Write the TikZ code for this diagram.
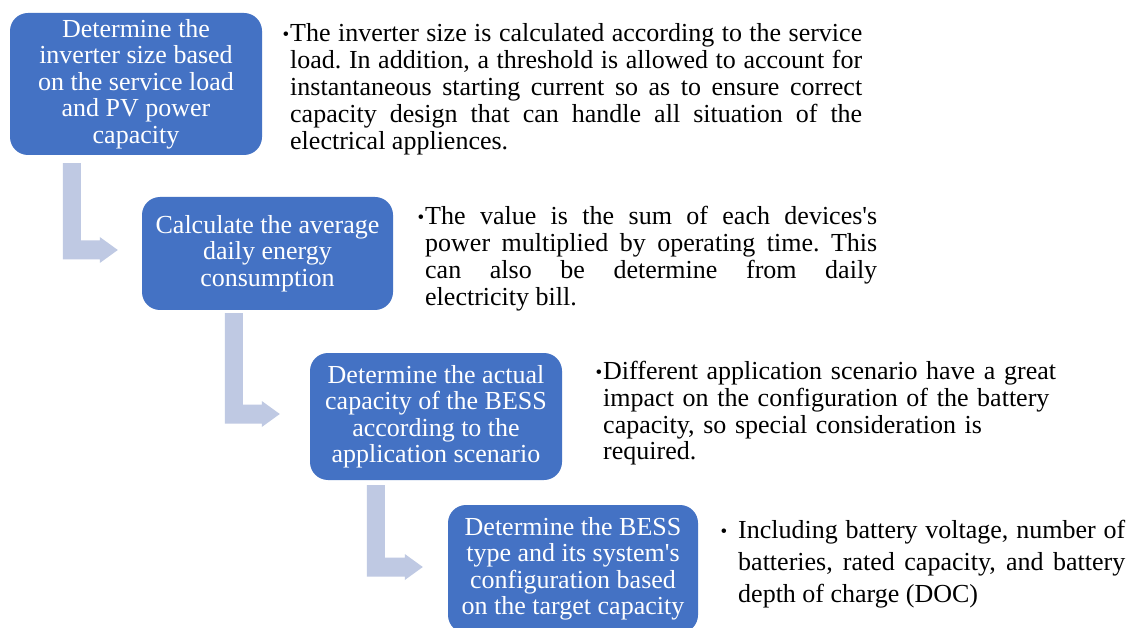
\documentclass[tikz,border=0pt]{standalone}
\usepackage{fontspec}
\setmainfont{Liberation Serif}[Ligatures=TeXOff]
\usetikzlibrary{calc}
\definecolor{boxblue}{HTML}{4472C4}
\definecolor{arrowblue}{HTML}{BFC9E3}
\tikzset{
  stepbox/.style={rounded corners=18pt, fill=boxblue, text=white, align=center,
    inner sep=1pt, font=\fontsize{26}{26.5}\selectfont},
  desc/.style={anchor=base west, inner sep=0pt, text=black,
    font=\fontsize{26}{27}\selectfont\frenchspacing},
  bentfill/.style={fill=arrowblue}
}
\newcommand\mybullet[1]{\llap{\raisebox{1pt}{\fontsize{19}{19}\selectfont •}\hspace{#1}}}
\newcommand\bentarrow[2]{%
  \fill[bentfill] let \p1=(#1), \p2=(#2) in
    (\x1,\y1) -- (\x1+18pt,\y1) -- (\x1+18pt,\y2+9.5pt) -- (\x2-18pt,\y2+9.5pt)
    -- (\x2-18pt,\y2+13pt) -- (\x2,\y2) -- (\x2-18pt,\y2-13pt)
    -- (\x2-18pt,\y2-9.5pt) -- (\x1,\y2-9.5pt) -- cycle;}
\begin{document}
\begin{tikzpicture}[x=1pt,y=-1pt]
\useasboundingbox (0,0) rectangle (1130,628);
\clip (0,0) rectangle (1130,628);
\fill[white] (0,0) rectangle (1130,628);

% step boxes
\node[stepbox, minimum width=252pt, minimum height=142pt] (b1) at (136,84)
  {Determine the\\inverter size based\\on the service load\\and PV power\\capacity};
\node[stepbox, minimum width=251pt, minimum height=113pt] (b2) at (267.5,253.5)
  {Calculate the average\\daily energy\\consumption};
\node[stepbox, minimum width=252pt, minimum height=127pt] (b3) at (436,416.5)
  {Determine the actual\\capacity of the BESS\\according to the\\application scenario};
\node[stepbox, minimum width=250pt, minimum height=128pt] (b4) at (573,569)
  {Determine the BESS\\type and its system's\\configuration based\\on the target capacity};

% bent arrows
\coordinate (a1s) at ($(b1.south west)+(53,8)$);
\coordinate (a1t) at ($(b2.west)+(-24,-3.5)$);
\coordinate (a2s) at ($(b2.south west)+(83,3)$);
\coordinate (a2t) at ($(b3.west)+(-30,-2.5)$);
\coordinate (a3s) at ($(b3.south west)+(57,5)$);
\coordinate (a3t) at ($(b4.west)+(-25,-2)$);
\bentarrow{a1s}{a1t}
\bentarrow{a2s}{a2t}
\bentarrow{a3s}{a3t}

% descriptions
\node[desc, text width=572pt, align=justify] (t1) at (290,42)
  {\mybullet{1pt}The inverter size is calculated according to the service\linebreak
   load. In addition, a threshold is allowed to account for\linebreak
   instantaneous starting current so as to ensure correct\linebreak
   capacity design that can handle all situation of the\linebreak
   electrical appliences.};
\node[desc, text width=452pt, align=justify] (t2) at (425,225)
  {\mybullet{1pt}The value is the sum of each devices's\linebreak
   power multiplied by operating time. This\linebreak
   can also be determine from daily\linebreak
   electricity bill.};
\node[desc, text width=460pt, align=left] (t3) at (603,379)
  {\mybullet{1pt}Different application scenario have a great\\
   impact on the configuration of the battery\\
   capacity, so special consideration is\\
   required.};
\node[desc, text width=387pt, align=justify, font=\fontsize{26}{32}\selectfont] (t4) at (738,538)
  {\mybullet{11pt}Including battery voltage, number of\linebreak
   batteries, rated capacity, and battery\linebreak
   depth of charge (DOC)};
\end{tikzpicture}
\end{document}
